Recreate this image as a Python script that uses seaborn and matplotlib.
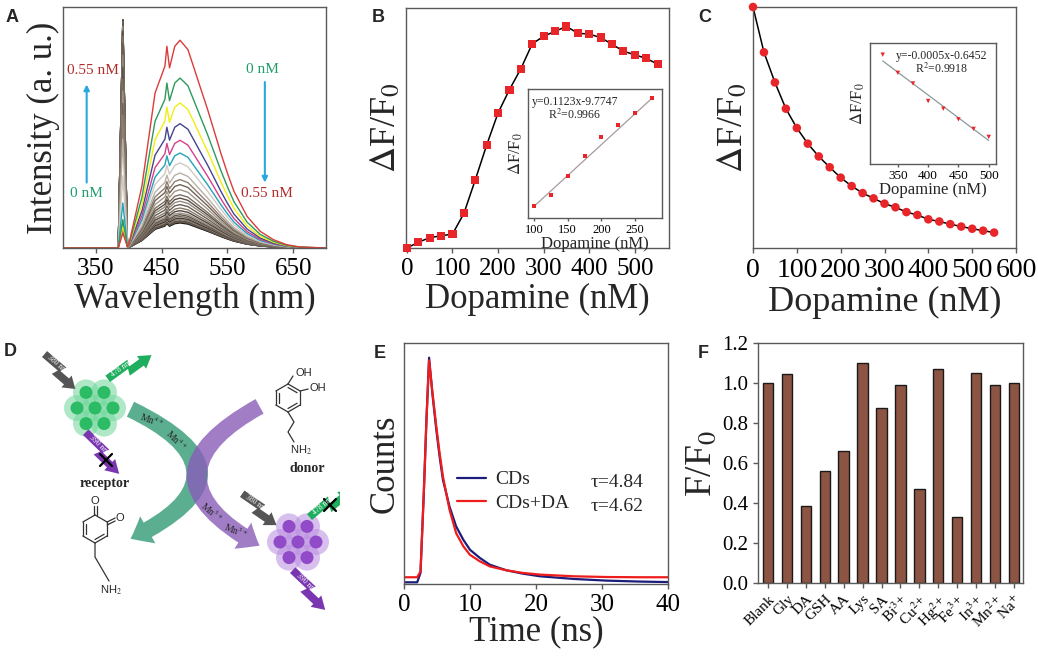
import numpy as np
import pandas as pd
import matplotlib
matplotlib.use("Agg")
import matplotlib.pyplot as plt
import seaborn as sns
from matplotlib.patches import Circle, Polygon, FancyArrowPatch

# ---------------- data ----------------
# A: emission spectra (shape of the band, excitation spike, heights per curve)
wavelength = [300, 380, 384, 391, 398, 400, 420, 440, 455, 458, 462, 470, 478,
              490, 500, 510, 520, 530, 540, 550, 560, 580, 600, 620, 640, 660, 700]
band_shape = [0, 0, 0, 0, 0.005, 0.016, 0.297, 0.746, 0.875, 0.971, 0.867, 0.971, 1.0,
              0.955, 0.859, 0.762, 0.666, 0.562, 0.457, 0.361, 0.273, 0.152, 0.080,
              0.040, 0.016, 0.005, 0]
spike_shape = [0, 0, 0, 1, 0.02, 0, 0, 0, 0, 0, 0, 0, 0,
               0, 0, 0, 0, 0, 0, 0, 0, 0, 0, 0, 0, 0, 0]
peak_heights = [0.862, 0.705, 0.602, 0.516, 0.447, 0.394, 0.353, 0.311, 0.284, 0.263,
                0.242, 0.221, 0.207, 0.194, 0.180, 0.166, 0.155, 0.145, 0.138, 0.131,
                0.124, 0.118, 0.113, 0.109, 0.107, 0.104]
spike_heights = [0.062, 0.118, 0.09, 0.10, 0.08, 0.187, 0.30, 0.45, 0.55, 0.60,
                 0.65, 0.70, 0.75, 0.80, 0.85, 0.88, 0.90, 0.92, 0.93, 0.94,
                 0.945, 0.947, 0.947, 0.947, 0.947, 0.947]
spec_colors = ['#dc3b3b', '#2e9a5c', '#f0ee12', '#45458f', '#d2428c', '#22a3b6', '#cfcac4',
               '#b9b0a6', '#8f7f70', '#6f6256', '#a09585', '#7b6e62', '#5a4e45', '#948a7e',
               '#6a5d52', '#837769', '#4e443c', '#9b8f82', '#5f5349', '#766a5e', '#403832',
               '#8a7e71', '#554a41', '#6d6156', '#2e2824', '#1a1a1a']

# B: dF/F0 vs dopamine (arbitrary units) + linear inset
dopa_b = [0, 25, 50, 75, 100, 125, 150, 175, 200, 225, 250, 275, 300, 325, 350,
          375, 400, 425, 450, 475, 500, 525, 550]
resp_b = [0, 2.4, 4.3, 5.1, 5.8, 14.4, 28.4, 42.9, 56.3, 66.0, 74.7, 85.1, 88.2, 90.3,
          92.3, 89.5, 89.1, 87.7, 84.9, 82.0, 80.5, 79.0, 76.6]
dopa_b_in = [100, 125, 150, 175, 200, 225, 250, 275]
resp_b_in = [1.46, 3.58, 7.03, 10.67, 14.01, 16.31, 18.50, 21.11]
fit_b = (0.1123, -9.7747)

# C: dF/F0 vs dopamine + linear inset
dopa_c = dopa_b
resp_c = [100, 81.2, 68.7, 57.8, 49.8, 43.3, 38.0, 33.5, 29.2, 25.7, 22.8, 20.6, 18.4,
          16.9, 14.9, 13.7, 11.9, 11.0, 9.9, 8.9, 8.0, 7.2, 6.4]
dopa_c_in = [325, 350, 375, 400, 425, 450, 475, 500]
resp_c_in = [-0.8008, -0.8208, -0.8325, -0.8518, -0.8602, -0.8719, -0.8824, -0.8912]
fit_c = (-0.0005, -0.6452)

# E: fluorescence decay
time_ns = [0, 2.0, 2.5, 3.0, 3.4, 3.8, 4.3, 4.9, 5.4, 5.9, 6.9, 7.9, 9.0, 10.0,
           11.5, 13.0, 15.5, 18.0, 20.6, 25.7, 30.7, 35.8, 40]
counts_cds = [0.007, 0.007, 0.046, 0.377, 0.680, 0.939, 0.790, 0.639, 0.528, 0.432,
              0.321, 0.239, 0.183, 0.142, 0.108, 0.080, 0.057, 0.043, 0.032, 0.021,
              0.014, 0.010, 0.008]
counts_da = [0.028, 0.028, 0.052, 0.377, 0.680, 0.928, 0.797, 0.652, 0.542, 0.446,
             0.308, 0.211, 0.156, 0.121, 0.094, 0.073, 0.057, 0.046, 0.039, 0.032,
             0.029, 0.028, 0.028]

# F: selectivity
species = ['Blank', 'Gly', 'DA', 'GSH', 'AA', 'Lys', 'SA', r'Bi$^{3+}$', r'Cu$^{2+}$',
           r'Hg$^{2+}$', r'Fe$^{3+}$', r'In$^{3+}$', r'Mn$^{2+}$', r'Na$^{+}$']
ratio_f = [1.0, 1.045, 0.385, 0.56, 0.66, 1.10, 0.875, 0.99, 0.47, 1.07, 0.33, 1.05,
           0.99, 1.0]

# ---------------- style ----------------
sns.set_theme(style="ticks")
plt.rcParams['font.family'] = ['Liberation Serif', 'DejaVu Serif']
plt.rcParams['mathtext.fontset'] = 'stix'
plt.rcParams['axes.edgecolor'] = '#5a5a5a'
plt.rcParams['axes.linewidth'] = 1.0
plt.rcParams['xtick.color'] = '#5a5a5a'
plt.rcParams['ytick.color'] = '#5a5a5a'
plt.rcParams['xtick.labelcolor'] = 'black'
plt.rcParams['ytick.labelcolor'] = 'black'

fig = plt.figure(figsize=(10.38, 6.57), dpi=100)
W, H = 1038, 657


def px_axes(x0, y0, x1, y1):
    return fig.add_axes([x0 / W, 1 - y1 / H, (x1 - x0) / W, (y1 - y0) / H])


def panel_letter(x, y, s):
    fig.text(x / W, 1 - y / H, s, fontsize=13, fontweight='bold',
             family='Liberation Sans', ha='left', va='center')


def box(ax):
    for sp in ax.spines.values():
        sp.set_visible(True)
    ax.tick_params(axis='x', length=3.5, width=1)


# ---------------- A ----------------
axA = px_axes(63, 7, 326, 248)
for i in reversed(range(len(peak_heights))):
    vals = [peak_heights[i] * b + spike_heights[i] * s for b, s in zip(band_shape, spike_shape)]
    sns.lineplot(x=wavelength, y=vals, color=spec_colors[i], lw=1.0, ax=axA)
axA.set_xlim(300, 700)
axA.set_ylim(0, 1)
axA.set_xticks([350, 450, 550, 650])
axA.set_yticks([])
box(axA)
axA.tick_params(axis='x', labelsize=18)
axA.set_xlabel('Wavelength (nm)', fontsize=25, labelpad=2)
axA.set_ylabel('Intensity (a. u.)', fontsize=25, labelpad=2)
axA.annotate('', xy=(336, 0.69), xytext=(336, 0.26),
             arrowprops=dict(arrowstyle='-|>', color='#29a8e0', lw=1.5, mutation_scale=8))
axA.annotate('', xy=(607, 0.26), xytext=(607, 0.70),
             arrowprops=dict(arrowstyle='-|>', color='#29a8e0', lw=1.5, mutation_scale=8))
axA.text(345, 0.735, '0.55 nM', color='#b22b2b', fontsize=11, ha='center', va='center')
axA.text(336, 0.228, '0 nM', color='#1e9e6a', fontsize=11, ha='center', va='center')
axA.text(604, 0.739, '0 nM', color='#1e9e6a', fontsize=11, ha='center', va='center')
axA.text(610, 0.228, '0.55 nM', color='#b22b2b', fontsize=11, ha='center', va='center')
panel_letter(6, 18, 'A')

# ---------------- B ----------------
axB = px_axes(406, 8, 669, 248)
sns.lineplot(x=dopa_b, y=resp_b, color='black', lw=1.1, ax=axB)
sns.scatterplot(x=dopa_b, y=resp_b, marker='s', s=34, color='#e8262a', edgecolor='none',
                zorder=3, clip_on=False, ax=axB)
axB.set_xlim(-2, 575)
axB.set_ylim(0, 100)
axB.set_xticks([0, 100, 200, 300, 400, 500])
axB.set_yticks([])
box(axB)
axB.tick_params(axis='x', labelsize=18)
axB.set_xlabel('Dopamine (nM)', fontsize=25, labelpad=2)
axB.set_ylabel(r'$\Delta$F/F$_0$', fontsize=26, labelpad=2)
panel_letter(372, 18, 'B')

axBi = px_axes(528, 89, 662, 218)
xs = np.array([100, 275])
sns.lineplot(x=xs, y=fit_b[0] * xs + fit_b[1], color='#a89a9a', lw=0.9, ax=axBi)
sns.scatterplot(x=dopa_b_in, y=resp_b_in, marker='s', s=8, color='#e8262a',
                edgecolor='none', zorder=3, ax=axBi)
axBi.set_xlim(91, 290)
axBi.set_ylim(-0.67, 22.8)
axBi.set_xticks([100, 150, 200, 250])
axBi.set_yticks([])
box(axBi)
axBi.tick_params(axis='x', labelsize=9, length=2.5, pad=2)
axBi.set_xlabel('Dopamine (nM)', fontsize=12, labelpad=0)
axBi.set_ylabel(r'$\Delta$F/F$_0$', fontsize=12, labelpad=2)
axBi.text(0.35, 0.90, 'y=0.1123x-9.7747', transform=axBi.transAxes, fontsize=8.5,
          ha='center', va='center')
axBi.text(0.35, 0.80, r'R$^2$=0.9966', transform=axBi.transAxes, fontsize=8.5,
          ha='center', va='center')

# ---------------- C ----------------
axC = px_axes(753, 7, 1016, 248)
sns.lineplot(x=dopa_c, y=resp_c, color='black', lw=1.1, ax=axC)
sns.scatterplot(x=dopa_c, y=resp_c, marker='o', s=38, color='#e8262a', edgecolor='none',
                zorder=3, clip_on=False, ax=axC)
axC.set_xlim(0, 600)
axC.set_ylim(0, 100)
axC.set_xticks([0, 100, 200, 300, 400, 500, 600])
axC.set_yticks([])
box(axC)
axC.tick_params(axis='x', labelsize=20)
axC.set_xlabel('Dopamine (nM)', fontsize=26, labelpad=2)
axC.set_ylabel(r'$\Delta$F/F$_0$', fontsize=26, labelpad=2)
panel_letter(698, 18, 'C')

axCi = px_axes(870, 43, 996, 164)
xs = np.array([325, 500])
sns.lineplot(x=xs, y=fit_c[0] * xs + fit_c[1], color='#8a9a9a', lw=0.9, ax=axCi)
sns.scatterplot(x=dopa_c_in, y=resp_c_in, marker='v', s=10, color='#e8262a',
                edgecolor='none', zorder=3, ax=axCi)
axCi.set_xlim(304, 512)
axCi.set_ylim(-0.921, -0.788)
axCi.set_xticks([350, 400, 450, 500])
axCi.set_yticks([])
box(axCi)
axCi.tick_params(axis='x', labelsize=9.5, length=2.5, pad=2)
axCi.set_xlabel('Dopamine (nM)', fontsize=12, labelpad=0)
axCi.set_ylabel(r'$\Delta$F/F$_0$', fontsize=12, labelpad=2)
axCi.text(0.57, 0.89, 'y=-0.0005x-0.6452', transform=axCi.transAxes, fontsize=8.5,
          ha='center', va='center')
axCi.text(0.57, 0.79, r'R$^2$=0.9918', transform=axCi.transAxes, fontsize=8.5,
          ha='center', va='center')

# ---------------- D (schematic) ----------------
axD = fig.add_axes([0, 0, 340 / W, 337 / H])
axD.set_xlim(0, 340)
axD.set_ylim(657, 320)
axD.axis('off')


def cluster(cx, cy, glow, core):
    d = 18
    centres = [(cx, cy)] + [(cx + d * np.cos(a), cy + d * np.sin(a))
                            for a in np.radians([0, 60, 120, 180, 240, 300])]
    for x, y in centres:
        axD.add_patch(Circle((x, y), 13, color=glow, alpha=0.55, lw=0))
    for x, y in centres:
        axD.add_patch(Circle((x, y), 6.5, color=core, alpha=0.9, lw=0))


def bolt(x0, y0, x1, y1, color, label, w=13):
    dx, dy = x1 - x0, y1 - y0
    L = np.hypot(dx, dy)
    u = np.array([dx, dy]) / L
    n = np.array([u[1], -u[0]])
    shape = [(0, 0.6), (0.55, 0.6), (0.5, 0.1), (0.75, 0.1), (0.75, 0.4), (1.0, -0.2),
             (0.75, -0.8), (0.75, -0.5), (0.4, -0.5), (0.45, 0.0), (0, 0.0)]
    pts = [np.array([x0, y0]) + s * L * u + t * w * n for s, t in shape]
    axD.add_patch(Polygon(pts, closed=True, color=color, lw=0))
    c = np.array([x0, y0]) + 0.35 * L * u + 0.3 * w * n
    ang = -np.degrees(np.arctan2(dy, dx))
    axD.text(c[0], c[1], label, color='white', fontsize=5.5, rotation=ang,
             ha='center', va='center', rotation_mode='anchor')


def cross(x, y, s=6):
    axD.plot([x - s, x + s], [y - s, y + s], color='black', lw=1.6)
    axD.plot([x - s, x + s], [y + s, y - s], color='black', lw=1.6)


def ring(cx, cy, r, doubles):
    ang = np.radians([90, 30, -30, -90, -150, 150])
    vx = cx + r * np.cos(ang)
    vy = cy - r * np.sin(ang)
    for k in range(6):
        j = (k + 1) % 6
        axD.plot([vx[k], vx[j]], [vy[k], vy[j]], color='#333333', lw=0.9)
        if k in doubles:
            f = 0.75
            ax_ = cx + f * (vx[k] - cx), cx + f * (vx[j] - cx)
            ay_ = cy + f * (vy[k] - cy), cy + f * (vy[j] - cy)
            axD.plot(ax_, ay_, color='#333333', lw=0.9)
    return vx, vy


# curved arrows crossing in the middle
axD.add_patch(FancyArrowPatch((128, 408), (128, 540), connectionstyle='arc3,rad=-1.05',
                              arrowstyle='simple,head_width=1.6,head_length=1.0,tail_width=0.85',
                              mutation_scale=14, color='#3fa07e', alpha=0.85, lw=0))
axD.add_patch(FancyArrowPatch((262, 405), (262, 547), connectionstyle='arc3,rad=0.92',
                              arrowstyle='simple,head_width=1.6,head_length=1.0,tail_width=0.85',
                              mutation_scale=14, color='#8a5cb8', alpha=0.8, lw=0))
axD.text(152, 420, r'Mn$^{4+}$', fontsize=7, rotation=-20, ha='center', va='center')
axD.text(176, 440, r'Mn$^{4+}$', fontsize=7, rotation=-45, ha='center', va='center')
axD.text(212, 512, r'Mn$^{3+}$', fontsize=7, rotation=-40, ha='center', va='center')
axD.text(236, 531, r'Mn$^{3+}$', fontsize=7, rotation=-22, ha='center', va='center')

cluster(95, 408, '#6fd69a', '#1db85a')
cluster(298, 542, '#b98de0', '#8a3ec4')
bolt(42, 357, 77, 387, '#555555', '380 nm')
bolt(110, 382, 150, 353, '#1fae5e', '478 nm')
bolt(83, 435, 121, 472, '#7a35b0', '390 nm')
cross(106, 460)
bolt(240, 497, 278, 523, '#555555', '380 nm')
bolt(312, 520, 350, 488, '#1fae5e', '478 nm')
cross(330, 505)
bolt(290, 573, 327, 608, '#7a35b0', '390 nm')
axD.text(105, 483, 'receptor', fontsize=10, fontweight='bold', ha='center', va='center')
axD.text(307, 468, 'donor', fontsize=10, fontweight='bold', ha='center', va='center')

# dopamine
vx, vy = ring(288, 398, 14, [0, 2, 4])
axD.plot([vx[0], vx[0] + 5], [vy[0], vy[0] - 8], color='#333333', lw=0.9)
axD.text(vx[0] + 7, vy[0] - 11, 'OH', fontsize=8, family='Liberation Sans', va='center')
axD.plot([vx[1], vx[1] + 8], [vy[1], vy[1] - 2], color='#333333', lw=0.9)
axD.text(vx[1] + 9, vy[1] - 3, 'OH', fontsize=8, family='Liberation Sans', va='center')
axD.plot([vx[3], vx[3] + 6, vx[3], vx[3] + 6],
         [vy[3], vy[3] + 10, vy[3] + 20, vy[3] + 30], color='#333333', lw=0.9)
axD.text(vx[3] + 2, vy[3] + 38, r'NH$_2$', fontsize=8, family='Liberation Sans', va='center')

# quinone
vx, vy = ring(95, 529, 14, [2, 4])
axD.plot([vx[0] - 1.5, vx[0] - 1.5], [vy[0], vy[0] - 9], color='#333333', lw=0.9)
axD.plot([vx[0] + 1.5, vx[0] + 1.5], [vy[0], vy[0] - 9], color='#333333', lw=0.9)
axD.text(vx[0], vy[0] - 14, 'O', fontsize=8, family='Liberation Sans', ha='center', va='center')
axD.plot([vx[1], vx[1] + 8], [vy[1], vy[1] - 4], color='#333333', lw=0.9)
axD.plot([vx[1], vx[1] + 8], [vy[1] + 3, vy[1] - 1], color='#333333', lw=0.9)
axD.text(vx[1] + 13, vy[1] - 4, 'O', fontsize=8, family='Liberation Sans', ha='center', va='center')
axD.plot([vx[3], vx[3], vx[3] + 7, vx[3] + 14],
         [vy[3], vy[3] + 14, vy[3] + 26, vy[3] + 38], color='#333333', lw=0.9)
axD.text(vx[3] + 5, vy[3] + 47, r'NH$_2$', fontsize=8, family='Liberation Sans', va='center')
panel_letter(4, 352, 'D')

# ---------------- E ----------------
axE = px_axes(404, 343, 668, 584)
sns.lineplot(x=time_ns, y=counts_cds, color='#1c1c7a', lw=1.6, label='CDs', ax=axE)
sns.lineplot(x=time_ns, y=counts_da, color='#ee1c1c', lw=1.6, label='CDs+DA', ax=axE)
axE.set_xlim(0, 40)
axE.set_ylim(0, 1)
axE.set_xticks([0, 10, 20, 30, 40])
axE.set_yticks([])
box(axE)
axE.tick_params(axis='x', labelsize=18)
axE.set_xlabel('Time (ns)', fontsize=25, labelpad=0)
axE.set_ylabel('Counts', fontsize=25, labelpad=2)
axE.legend(loc='upper left', bbox_to_anchor=(0.2, 0.47), frameon=False, fontsize=14,
           handlelength=1.5, handletextpad=0.5, labelspacing=0.3, borderpad=0,
           borderaxespad=0)
axE.text(0.705, 0.423, r'τ=4.84', transform=axE.transAxes, fontsize=14, va='center')
axE.text(0.705, 0.320, r'τ=4.62', transform=axE.transAxes, fontsize=14, va='center')
panel_letter(374, 353, 'E')

# ---------------- F ----------------
axF = px_axes(758, 343, 1023, 583)
sns.barplot(x=list(range(len(species))), y=ratio_f, color='#8c5543', width=0.55,
            edgecolor='#1a1a1a', linewidth=1, saturation=1, ax=axF)
axF.set_xlim(-0.53, 13.48)
axF.set_ylim(0, 1.2)
axF.set_yticks([0, 0.2, 0.4, 0.6, 0.8, 1.0, 1.2])
axF.set_yticklabels(['0.0', '0.2', '0.4', '0.6', '0.8', '1.0', '1.2'])
axF.set_xticks(range(len(species)))
axF.set_xticklabels(species, rotation=45, ha='right', rotation_mode='anchor')
box(axF)
axF.tick_params(axis='y', labelsize=15, length=3.5, width=1)
axF.tick_params(axis='x', labelsize=11)
axF.set_xlabel('')
axF.set_ylabel(r'F/F$_0$', fontsize=27, labelpad=2)
panel_letter(698, 353, 'F')

fig.savefig('out.png', dpi=100)
